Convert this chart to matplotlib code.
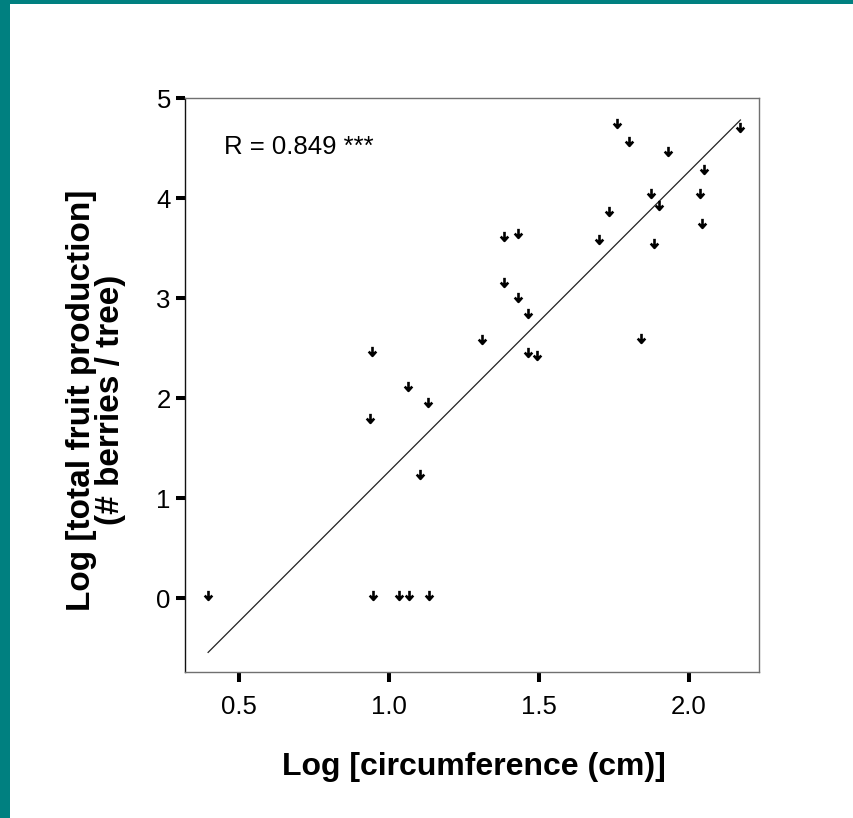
import matplotlib
matplotlib.use("Agg")
import matplotlib.pyplot as plt
from matplotlib.path import Path
from matplotlib.patches import Rectangle

plt.rcParams['font.family'] = ['Liberation Sans', 'DejaVu Sans']

# ---- data ----
circ_log = [1.759, 1.799, 1.931, 2.051, 1.872, 2.038, 1.899, 1.732, 2.044, 1.699,
            1.883, 2.171, 1.383, 1.430, 1.383, 1.430, 1.463, 1.310, 1.463, 1.493,
            1.840, 0.943, 0.937, 1.063, 1.130, 1.103,
            0.397, 0.946, 1.032, 1.066, 1.132]
fruit_log = [4.72, 4.54, 4.44, 4.26, 4.02, 4.02, 3.90, 3.84, 3.72, 3.56,
             3.52, 4.68, 3.59, 3.62, 3.13, 2.98, 2.82, 2.56, 2.43, 2.40,
             2.57, 2.44, 1.77, 2.09, 1.93, 1.21,
             0.0, 0.0, 0.0, 0.0, 0.0]
fit_x = [0.397, 2.171]
fit_y = [-0.544, 4.78]
x_ticks = [0.5, 1.0, 1.5, 2.0]
x_ticklabels = ["0.5", "1.0", "1.5", "2.0"]
y_ticks = [0, 1, 2, 3, 4, 5]
y_ticklabels = ["0", "1", "2", "3", "4", "5"]
r_text = "R = 0.849 ***"
xlabel = "Log [circumference (cm)]"
ylabel = "Log [total fruit production]\n(# berries / tree)"

W, H = 854, 818
fig = plt.figure(figsize=(W / 100, H / 100), dpi=100)
fig.patch.set_facecolor('white')

teal = '#008080'
fig.patches.append(Rectangle((0, 0), 10 / W, 1, transform=fig.transFigure,
                             facecolor=teal, edgecolor='none', zorder=0))
fig.patches.append(Rectangle((0, 1 - 4 / H), 1, 4 / H, transform=fig.transFigure,
                             facecolor=teal, edgecolor='none', zorder=0))

L, R, T, B = 185, 759, 98, 672
ax = fig.add_axes([L / W, 1 - B / H, (R - L) / W, (B - T) / H])
ax.set_xlim(0.32, 2.233)
ax.set_ylim(-0.74, 5.0)

# downward arrow marker, origin near the tip
s = 0.35
verts = [(0, 0.5 + s), (0, -0.5 + s), (-0.42, -0.02 + s), (0, -0.5 + s), (0.42, -0.02 + s)]
codes = [Path.MOVETO, Path.LINETO, Path.MOVETO, Path.LINETO, Path.LINETO]
arrow = Path(verts, codes)

ax.plot(fit_x, fit_y, color='#222222', lw=0.9, zorder=2)
ax.plot(circ_log, fruit_log, linestyle='none', marker=arrow, markersize=11,
        markeredgewidth=1.9, markeredgecolor='black', markerfacecolor='none', zorder=3)

ax.text(0.45, 4.51, r_text, fontsize=18.5, ha='left', va='center', color='black')

ax.set_xticks(x_ticks)
ax.set_xticklabels(x_ticklabels)
ax.set_yticks(y_ticks)
ax.set_yticklabels(y_ticklabels)
ax.tick_params(direction='out', length=6.2, width=2.9, color='black',
               labelsize=18.5, pad=4)
ax.tick_params(axis='x', length=7.5, pad=9)

for side in ['top', 'right', 'bottom']:
    ax.spines[side].set_color('#707070')
    ax.spines[side].set_linewidth(1.0)
ax.spines['left'].set_color('#111111')
ax.spines['left'].set_linewidth(1.0)

fig.text(474 / W, 1 - 767 / H, xlabel, fontsize=23, fontweight='bold',
         ha='center', va='center')
fig.text(96 / W, 1 - 400 / H, ylabel, fontsize=24, fontweight='bold',
         ha='center', va='center', rotation=90, linespacing=0.92)

fig.savefig('out.png', dpi=100, facecolor='white')
